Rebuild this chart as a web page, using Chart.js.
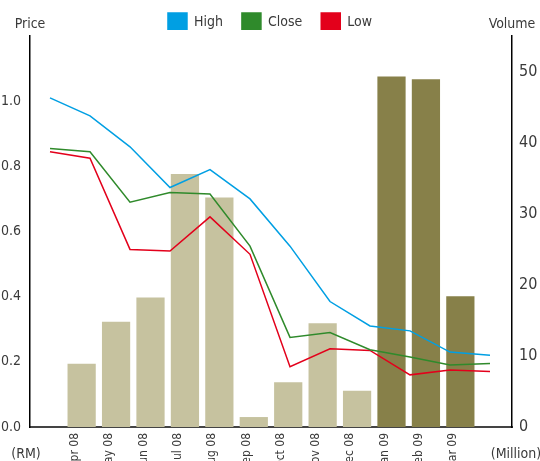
<!DOCTYPE html>
<html lang="en">
<head>
<meta charset="UTF-8">
<title>Price and Volume</title>
<script src="https://cdn.jsdelivr.net/npm/chart.js"></script>
<style>
  html, body { margin: 0; padding: 0; background: #fff; overflow: hidden; }
</style>
</head>
<body>
<canvas id="myChart" width="540" height="480"></canvas>
<script>
// monthly data, Apr 08 - Mar 09
var months = ['Apr 08', 'May 08', 'Jun 08', 'Jul 08', 'Aug 08', 'Sep 08',
              'Oct 08', 'Nov 08', 'Dec 08', 'Jan 09', 'Feb 09', 'Mar 09'];
var high   = [1.01, 0.955, 0.86, 0.735, 0.79, 0.70, 0.555, 0.385, 0.31, 0.295, 0.23, 0.22];
var close  = [0.855, 0.845, 0.69, 0.72, 0.715, 0.555, 0.275, 0.29, 0.237, 0.215, 0.19, 0.195];
var low    = [0.845, 0.825, 0.545, 0.54, 0.645, 0.53, 0.185, 0.24, 0.235, 0.16, 0.175, 0.17];
var volume = [8.9, 14.8, 18.2, 35.6, 32.3, 1.4, 6.3, 14.6, 5.1, 49.3, 48.9, 18.4];
var priceTicks  = [0, 0.2, 0.4, 0.6, 0.8, 1.0];
var volumeTicks = [0, 10, 20, 30, 40, 50];

var FONT = "'DejaVu Sans Condensed', 'Liberation Sans Narrow', sans-serif";
var TEXT = '#3a3a3a';

// bar axis has an empty slot at each end
var barLabels = [''].concat(months, ['']);
var barData = [null].concat(volume, [null]);
var pts = function (arr) { return arr.map(function (v, i) { return { x: i, y: v }; }); };

var lineSet = function (label, data, color) {
    return {
        type: 'line', label: label, data: pts(data),
        xAxisID: 'xl', yAxisID: 'yPrice',
        borderColor: color, backgroundColor: color,
        borderWidth: 1.5, pointRadius: 0, tension: 0
    };
};

// fixed legend band and axis captions
var extras = {
    id: 'extras',
    beforeLayout: function (chart) {
        var lg = chart.legend;
        if (lg && !lg._patched) {
            var fit = lg.fit;
            lg.fit = function () { fit.call(this); this.height = 36; };
            lg._patched = true;
        }
    },
    afterLayout: function (chart) {
        chart.legend.top -= 6;
        chart.legend.bottom -= 6;
    },
    afterDraw: function (chart) {
        var c = chart.ctx, a = chart.chartArea;
        c.save();
        c.fillStyle = TEXT;
        c.textAlign = 'center';
        c.textBaseline = 'alphabetic';
        c.font = '14px ' + FONT;
        c.fillText('Price', a.left, 28);
        c.fillText('Volume', a.right, 28);
        c.textBaseline = 'middle';
        c.fillText('(RM)', a.left - 4, 454);
        c.fillText('(Million)', a.right + 4, 454);
        c.restore();
    }
};

var ctx = document.getElementById('myChart');
new Chart(ctx, {
    data: {
        labels: barLabels,
        datasets: [
            lineSet('High', high, '#009fe3'),
            lineSet('Close', close, '#2f8a2b'),
            lineSet('Low', low, '#e3001b'),
            {
                type: 'bar', label: 'Volume', data: barData,
                xAxisID: 'x', yAxisID: 'yVol',
                backgroundColor: function (c) {
                    return (barLabels[c.index] || '').slice(-2) === '09' ? '#878049' : '#c6c29f';
                },
                grouped: false,
                categoryPercentage: 1, barPercentage: 0.82
            }
        ]
    },
    options: {
        responsive: false,
        animation: false,
        layout: { padding: 0 },
        plugins: {
            tooltip: { enabled: false },
            legend: {
                position: 'top',
                labels: {
                    boxWidth: 19, boxHeight: 19, padding: 19,
                    color: TEXT, font: { family: FONT, size: 14 },
                    filter: function (item) { return item.text !== 'Volume'; }
                }
            }
        },
        scales: {
            x: {
                type: 'category', position: 'bottom',
                grid: { display: false, drawTicks: false },
                border: { display: true, color: '#444', width: 2 },
                ticks: {
                    autoSkip: false, minRotation: 90, maxRotation: 90,
                    padding: 6, labelOffset: -7,
                    color: TEXT, font: { family: FONT, size: 12 }
                },
                afterFit: function (s) { s.height = 53; }
            },
            xl: {
                type: 'linear', display: false, min: -0.5, max: 11.55
            },
            yPrice: {
                type: 'linear', position: 'left', min: 0, max: 1.2,
                grid: { display: false, drawTicks: false },
                border: { display: true, color: '#000', width: 1.5 },
                afterBuildTicks: function (s) {
                    s.ticks = priceTicks.map(function (v) { return { value: v }; });
                },
                ticks: {
                    padding: 9, color: TEXT, font: { family: FONT, size: 14 },
                    callback: function (v) { return Number(v).toFixed(1); }
                },
                afterFit: function (s) { s.width = 30; }
            },
            yVol: {
                type: 'linear', position: 'right', min: 0, max: 55,
                grid: { display: false, drawTicks: false },
                border: { display: true, color: '#000', width: 1.5 },
                afterBuildTicks: function (s) {
                    s.ticks = volumeTicks.map(function (v) { return { value: v }; });
                },
                ticks: {
                    padding: 7, color: TEXT, font: { family: FONT, size: 16 }
                },
                afterFit: function (s) { s.width = 28; }
            }
        }
    },
    plugins: [extras]
});
</script>
</body>
</html>
